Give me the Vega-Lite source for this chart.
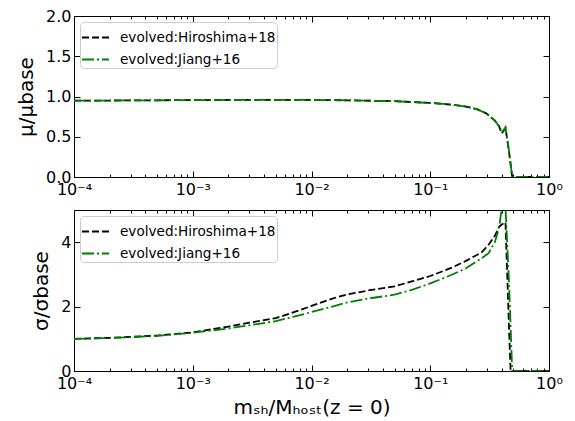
{
  "$schema": "https://vega.github.io/schema/vega-lite/v6.json",
  "padding": {"left": 16, "top": 8, "right": 5, "bottom": 5},
  "config": {
    "font": "DejaVu Sans",
    "view": {"stroke": null},
    "axis": {"grid": false, "domainColor": "black", "tickColor": "black", "labelColor": "black", "titleColor": "black", "labelFontSize": 16, "titleFontSize": 20, "titleFontWeight": "normal", "labelFlush": false, "labelOverlap": false, "tickSize": -6, "labelPadding": 10, "domainWidth": 1, "tickWidth": 1},
    "legend": {"orient": "top-left", "offset": 6, "padding": 1, "fillColor": "white", "strokeColor": "#cccccc", "cornerRadius": 4, "labelFontSize": 13.6, "labelColor": "black", "labelLimit": 300, "symbolType": "stroke", "symbolSize": 729, "symbolStrokeWidth": 1.8, "rowPadding": -10, "labelOffset": 10}
  },
  "datasets": {
    "mu": [
      {"model": "evolved:Hiroshima+18", "m": 0.0001, "v": 0.95},
      {"model": "evolved:Hiroshima+18", "m": 0.0002, "v": 0.95},
      {"model": "evolved:Hiroshima+18", "m": 0.0005, "v": 0.953},
      {"model": "evolved:Hiroshima+18", "m": 0.001, "v": 0.955},
      {"model": "evolved:Hiroshima+18", "m": 0.002, "v": 0.957},
      {"model": "evolved:Hiroshima+18", "m": 0.005, "v": 0.958},
      {"model": "evolved:Hiroshima+18", "m": 0.01, "v": 0.957},
      {"model": "evolved:Hiroshima+18", "m": 0.02, "v": 0.953},
      {"model": "evolved:Hiroshima+18", "m": 0.05, "v": 0.942},
      {"model": "evolved:Hiroshima+18", "m": 0.1, "v": 0.92},
      {"model": "evolved:Hiroshima+18", "m": 0.15, "v": 0.9},
      {"model": "evolved:Hiroshima+18", "m": 0.2, "v": 0.875},
      {"model": "evolved:Hiroshima+18", "m": 0.25, "v": 0.84},
      {"model": "evolved:Hiroshima+18", "m": 0.3, "v": 0.785},
      {"model": "evolved:Hiroshima+18", "m": 0.35, "v": 0.7},
      {"model": "evolved:Hiroshima+18", "m": 0.38, "v": 0.63},
      {"model": "evolved:Hiroshima+18", "m": 0.4, "v": 0.54},
      {"model": "evolved:Hiroshima+18", "m": 0.43, "v": 0.61},
      {"model": "evolved:Hiroshima+18", "m": 0.46, "v": 0.32},
      {"model": "evolved:Hiroshima+18", "m": 0.49, "v": 0.0},
      {"model": "evolved:Hiroshima+18", "m": 0.6, "v": 0.0},
      {"model": "evolved:Hiroshima+18", "m": 0.8, "v": 0.0},
      {"model": "evolved:Hiroshima+18", "m": 1.0, "v": 0.0},
      {"model": "evolved:Jiang+16", "m": 0.0001, "v": 0.95},
      {"model": "evolved:Jiang+16", "m": 0.0002, "v": 0.95},
      {"model": "evolved:Jiang+16", "m": 0.0005, "v": 0.953},
      {"model": "evolved:Jiang+16", "m": 0.001, "v": 0.955},
      {"model": "evolved:Jiang+16", "m": 0.002, "v": 0.957},
      {"model": "evolved:Jiang+16", "m": 0.005, "v": 0.958},
      {"model": "evolved:Jiang+16", "m": 0.01, "v": 0.957},
      {"model": "evolved:Jiang+16", "m": 0.02, "v": 0.953},
      {"model": "evolved:Jiang+16", "m": 0.05, "v": 0.942},
      {"model": "evolved:Jiang+16", "m": 0.1, "v": 0.92},
      {"model": "evolved:Jiang+16", "m": 0.15, "v": 0.9},
      {"model": "evolved:Jiang+16", "m": 0.2, "v": 0.875},
      {"model": "evolved:Jiang+16", "m": 0.25, "v": 0.84},
      {"model": "evolved:Jiang+16", "m": 0.3, "v": 0.785},
      {"model": "evolved:Jiang+16", "m": 0.35, "v": 0.7},
      {"model": "evolved:Jiang+16", "m": 0.38, "v": 0.63},
      {"model": "evolved:Jiang+16", "m": 0.4, "v": 0.55},
      {"model": "evolved:Jiang+16", "m": 0.43, "v": 0.62},
      {"model": "evolved:Jiang+16", "m": 0.46, "v": 0.33},
      {"model": "evolved:Jiang+16", "m": 0.49, "v": 0.0},
      {"model": "evolved:Jiang+16", "m": 0.6, "v": 0.0},
      {"model": "evolved:Jiang+16", "m": 0.8, "v": 0.0},
      {"model": "evolved:Jiang+16", "m": 1.0, "v": 0.0}
    ],
    "sigma": [
      {"model": "evolved:Hiroshima+18", "m": 0.0001, "v": 1.0},
      {"model": "evolved:Hiroshima+18", "m": 0.0002, "v": 1.03},
      {"model": "evolved:Hiroshima+18", "m": 0.0005, "v": 1.1},
      {"model": "evolved:Hiroshima+18", "m": 0.001, "v": 1.2},
      {"model": "evolved:Hiroshima+18", "m": 0.002, "v": 1.38},
      {"model": "evolved:Hiroshima+18", "m": 0.003, "v": 1.5},
      {"model": "evolved:Hiroshima+18", "m": 0.005, "v": 1.64},
      {"model": "evolved:Hiroshima+18", "m": 0.007, "v": 1.82},
      {"model": "evolved:Hiroshima+18", "m": 0.01, "v": 2.02},
      {"model": "evolved:Hiroshima+18", "m": 0.015, "v": 2.25},
      {"model": "evolved:Hiroshima+18", "m": 0.02, "v": 2.38},
      {"model": "evolved:Hiroshima+18", "m": 0.03, "v": 2.5},
      {"model": "evolved:Hiroshima+18", "m": 0.05, "v": 2.63},
      {"model": "evolved:Hiroshima+18", "m": 0.07, "v": 2.78},
      {"model": "evolved:Hiroshima+18", "m": 0.1, "v": 2.95},
      {"model": "evolved:Hiroshima+18", "m": 0.15, "v": 3.2},
      {"model": "evolved:Hiroshima+18", "m": 0.2, "v": 3.42},
      {"model": "evolved:Hiroshima+18", "m": 0.27, "v": 3.68},
      {"model": "evolved:Hiroshima+18", "m": 0.31, "v": 3.92},
      {"model": "evolved:Hiroshima+18", "m": 0.35, "v": 4.2},
      {"model": "evolved:Hiroshima+18", "m": 0.38, "v": 4.48},
      {"model": "evolved:Hiroshima+18", "m": 0.4, "v": 4.55},
      {"model": "evolved:Hiroshima+18", "m": 0.43, "v": 4.62},
      {"model": "evolved:Hiroshima+18", "m": 0.46, "v": 1.4},
      {"model": "evolved:Hiroshima+18", "m": 0.475, "v": 0.0},
      {"model": "evolved:Hiroshima+18", "m": 0.6, "v": 0.0},
      {"model": "evolved:Hiroshima+18", "m": 0.8, "v": 0.0},
      {"model": "evolved:Hiroshima+18", "m": 1.0, "v": 0.0},
      {"model": "evolved:Jiang+16", "m": 0.0001, "v": 1.0},
      {"model": "evolved:Jiang+16", "m": 0.0002, "v": 1.02},
      {"model": "evolved:Jiang+16", "m": 0.0005, "v": 1.09},
      {"model": "evolved:Jiang+16", "m": 0.001, "v": 1.19},
      {"model": "evolved:Jiang+16", "m": 0.002, "v": 1.32},
      {"model": "evolved:Jiang+16", "m": 0.003, "v": 1.42},
      {"model": "evolved:Jiang+16", "m": 0.005, "v": 1.55},
      {"model": "evolved:Jiang+16", "m": 0.007, "v": 1.68},
      {"model": "evolved:Jiang+16", "m": 0.01, "v": 1.83},
      {"model": "evolved:Jiang+16", "m": 0.015, "v": 2.0},
      {"model": "evolved:Jiang+16", "m": 0.02, "v": 2.13},
      {"model": "evolved:Jiang+16", "m": 0.03, "v": 2.25},
      {"model": "evolved:Jiang+16", "m": 0.05, "v": 2.37},
      {"model": "evolved:Jiang+16", "m": 0.07, "v": 2.52},
      {"model": "evolved:Jiang+16", "m": 0.1, "v": 2.72},
      {"model": "evolved:Jiang+16", "m": 0.15, "v": 2.98},
      {"model": "evolved:Jiang+16", "m": 0.2, "v": 3.19},
      {"model": "evolved:Jiang+16", "m": 0.27, "v": 3.5},
      {"model": "evolved:Jiang+16", "m": 0.31, "v": 3.66},
      {"model": "evolved:Jiang+16", "m": 0.35, "v": 4.0},
      {"model": "evolved:Jiang+16", "m": 0.38, "v": 4.45},
      {"model": "evolved:Jiang+16", "m": 0.4, "v": 5.05},
      {"model": "evolved:Jiang+16", "m": 0.415, "v": 5.4},
      {"model": "evolved:Jiang+16", "m": 0.43, "v": 5.1},
      {"model": "evolved:Jiang+16", "m": 0.46, "v": 2.8},
      {"model": "evolved:Jiang+16", "m": 0.49, "v": 0.0},
      {"model": "evolved:Jiang+16", "m": 0.6, "v": 0.0},
      {"model": "evolved:Jiang+16", "m": 0.8, "v": 0.0},
      {"model": "evolved:Jiang+16", "m": 1.0, "v": 0.0}
    ]
  },
  "resolve": {"scale": {"color": "independent", "strokeDash": "independent"}, "legend": {"color": "independent", "strokeDash": "independent"}},
  "spacing": 0,
  "vconcat": [
    {
      "width": 475, "height": 161,
      "data": {"name": "mu"},
      "resolve": {"axis": {"x": "independent", "y": "independent"}},
      "layer": [
        {
          "mark": {"type": "line", "clip": true, "strokeWidth": 1.8},
          "encoding": {
            "x": {"field": "m", "type": "quantitative", "scale": {"type": "log", "domain": [0.0001, 1], "nice": false}, "axis": {"orient": "bottom", "title": null, "values": [0.0001, 0.001, 0.01, 0.1, 1], "labelExpr": "['10⁻⁴','10⁻³','10⁻²','10⁻¹','10⁰'][round(log(datum.value)/LN10)+4]"}},
            "y": {"field": "v", "type": "quantitative", "scale": {"domain": [0, 2], "nice": false}, "axis": {"orient": "left", "title": "μ/μbase", "values": [0, 0.5, 1, 1.5, 2], "format": ".1f", "labelPadding": 9, "titlePadding": 9}},
            "color": {"field": "model", "type": "nominal", "scale": {"domain": ["evolved:Hiroshima+18", "evolved:Jiang+16"], "range": ["black", "green"]}, "legend": {"title": null}},
            "strokeDash": {"field": "model", "type": "nominal", "scale": {"domain": ["evolved:Hiroshima+18", "evolved:Jiang+16"], "range": [[7, 3], [12, 3, 2, 3]]}, "legend": {"title": null}}
          }
        },
        {
          "mark": {"type": "line", "opacity": 0},
          "encoding": {
            "x": {"field": "m", "type": "quantitative", "scale": {"type": "log", "domain": [0.0001, 1], "nice": false}, "axis": {"orient": "bottom", "title": null, "labels": false, "domain": false, "tickSize": -3, "values": [0.0002,0.0003,0.0004,0.0005,0.0006,0.0007,0.0008,0.0009,0.002,0.003,0.004,0.005,0.006,0.007,0.008,0.009,0.02,0.03,0.04,0.05,0.06,0.07,0.08,0.09,0.2,0.3,0.4,0.5,0.6,0.7,0.8,0.9]}},
            "y": {"field": "v", "type": "quantitative", "scale": {"domain": [0, 2], "nice": false}, "axis": null}
          }
        },
        {
          "mark": {"type": "line", "opacity": 0},
          "encoding": {
            "x": {"field": "m", "type": "quantitative", "scale": {"type": "log", "domain": [0.0001, 1], "nice": false}, "axis": {"orient": "top", "title": null, "labels": false, "values": [0.0001, 0.001, 0.01, 0.1, 1]}},
            "y": {"field": "v", "type": "quantitative", "scale": {"domain": [0, 2], "nice": false}, "axis": {"orient": "right", "title": null, "labels": false, "values": [0, 0.5, 1, 1.5, 2]}}
          }
        },
        {
          "mark": {"type": "line", "opacity": 0},
          "encoding": {
            "x": {"field": "m", "type": "quantitative", "scale": {"type": "log", "domain": [0.0001, 1], "nice": false}, "axis": {"orient": "top", "title": null, "labels": false, "domain": false, "tickSize": -3, "values": [0.0002,0.0003,0.0004,0.0005,0.0006,0.0007,0.0008,0.0009,0.002,0.003,0.004,0.005,0.006,0.007,0.008,0.009,0.02,0.03,0.04,0.05,0.06,0.07,0.08,0.09,0.2,0.3,0.4,0.5,0.6,0.7,0.8,0.9]}},
            "y": {"field": "v", "type": "quantitative", "scale": {"domain": [0, 2], "nice": false}, "axis": null}
          }
        }
      ]
    },
    {
      "width": 475, "height": 161,
      "data": {"name": "sigma"},
      "resolve": {"axis": {"x": "independent", "y": "independent"}},
      "layer": [
        {
          "mark": {"type": "line", "clip": true, "strokeWidth": 1.8},
          "encoding": {
            "x": {"field": "m", "type": "quantitative", "scale": {"type": "log", "domain": [0.0001, 1], "nice": false}, "axis": {"orient": "bottom", "title": "mₛₕ/Mₕₒₛₜ(z = 0)", "titlePadding": 6, "values": [0.0001, 0.001, 0.01, 0.1, 1], "labelExpr": "['10⁻⁴','10⁻³','10⁻²','10⁻¹','10⁰'][round(log(datum.value)/LN10)+4]"}},
            "y": {"field": "v", "type": "quantitative", "scale": {"domain": [0, 5], "nice": false}, "axis": {"orient": "left", "title": "σ/σbase", "values": [0, 2, 4], "format": "d", "labelPadding": 9, "titlePadding": 9}},
            "color": {"field": "model", "type": "nominal", "scale": {"domain": ["evolved:Hiroshima+18", "evolved:Jiang+16"], "range": ["black", "green"]}, "legend": {"title": null}},
            "strokeDash": {"field": "model", "type": "nominal", "scale": {"domain": ["evolved:Hiroshima+18", "evolved:Jiang+16"], "range": [[7, 3], [12, 3, 2, 3]]}, "legend": {"title": null}}
          }
        },
        {
          "mark": {"type": "line", "opacity": 0},
          "encoding": {
            "x": {"field": "m", "type": "quantitative", "scale": {"type": "log", "domain": [0.0001, 1], "nice": false}, "axis": {"orient": "bottom", "title": null, "labels": false, "domain": false, "tickSize": -3, "values": [0.0002,0.0003,0.0004,0.0005,0.0006,0.0007,0.0008,0.0009,0.002,0.003,0.004,0.005,0.006,0.007,0.008,0.009,0.02,0.03,0.04,0.05,0.06,0.07,0.08,0.09,0.2,0.3,0.4,0.5,0.6,0.7,0.8,0.9]}},
            "y": {"field": "v", "type": "quantitative", "scale": {"domain": [0, 5], "nice": false}, "axis": null}
          }
        },
        {
          "mark": {"type": "line", "opacity": 0},
          "encoding": {
            "x": {"field": "m", "type": "quantitative", "scale": {"type": "log", "domain": [0.0001, 1], "nice": false}, "axis": {"orient": "top", "title": null, "labels": false, "values": [0.0001, 0.001, 0.01, 0.1, 1]}},
            "y": {"field": "v", "type": "quantitative", "scale": {"domain": [0, 5], "nice": false}, "axis": {"orient": "right", "title": null, "labels": false, "values": [0, 2, 4]}}
          }
        },
        {
          "mark": {"type": "line", "opacity": 0},
          "encoding": {
            "x": {"field": "m", "type": "quantitative", "scale": {"type": "log", "domain": [0.0001, 1], "nice": false}, "axis": {"orient": "top", "title": null, "labels": false, "domain": false, "tickSize": -3, "values": [0.0002,0.0003,0.0004,0.0005,0.0006,0.0007,0.0008,0.0009,0.002,0.003,0.004,0.005,0.006,0.007,0.008,0.009,0.02,0.03,0.04,0.05,0.06,0.07,0.08,0.09,0.2,0.3,0.4,0.5,0.6,0.7,0.8,0.9]}},
            "y": {"field": "v", "type": "quantitative", "scale": {"domain": [0, 5], "nice": false}, "axis": null}
          }
        }
      ]
    }
  ]
}
